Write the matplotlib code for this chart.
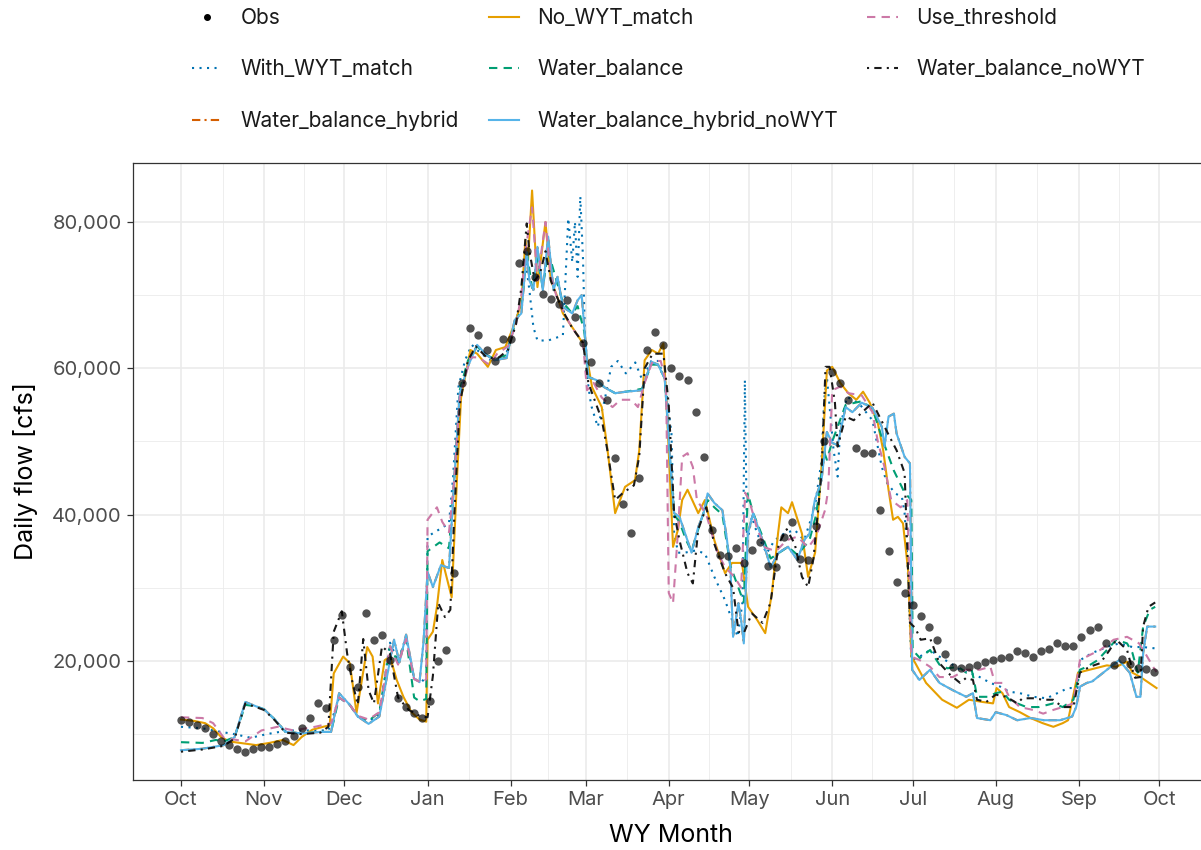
import matplotlib.pyplot as plt
from matplotlib.lines import Line2D
from matplotlib.ticker import FixedLocator, FuncFormatter

plt.rcParams["font.family"] = ["Inter", "DejaVu Sans"]

# ---------------------------------------------------------------------------
# data: day of water year (0 = Oct 1), flow in thousand cfs
# ---------------------------------------------------------------------------
month_days = [0, 31, 61, 92, 123, 151, 182, 212, 243, 273, 304, 335, 365]
month_labels = ["Oct", "Nov", "Dec", "Jan", "Feb", "Mar", "Apr", "May",
                "Jun", "Jul", "Aug", "Sep", "Oct"]

obs_days = list(range(0, 364, 3))
obs_flow = [
    11.9, 11.7, 11.3, 10.8, 10.0, 9.1, 8.5, 7.9, 7.6, 7.9,
    8.2, 8.3, 8.6, 9.0, 9.8, 10.9, 12.2, 14.2, 13.6, 22.9,
    26.3, 19.2, 16.5, 26.5, 22.9, 23.6, 20.1, 15.0, 13.7, 12.9,
    12.2, 14.5, 20.0, 21.5, 32.0, 58.0, 65.5, 64.5, 62.5, 61.0,
    64.0, 64.0, 74.4, 76.1, 72.5, 70.2, 69.5, 68.8, 69.3, 67.0,
    63.5, 60.8, 58.0, 55.7, 47.7, 41.5, 37.5, 45.0, 62.5, 65.0,
    63.2, 60.0, 59.0, 58.4, 54.0, 47.9, 37.9, 34.5, 34.3, 35.5,
    33.4, 35.2, 36.3, 33.0, 32.8, 37.0, 39.0, 34.0, 33.8, 38.5,
    50.0, 59.5, 58.0, 55.7, 49.1, 48.4, 48.4, 40.6, 35.0, 30.8,
    29.3, 27.6, 26.2, 24.6, 22.9, 21.0, 19.2, 19.0, 19.2, 19.5,
    19.8, 20.1, 20.4, 20.6, 21.4, 21.1, 20.6, 21.3, 21.7, 22.4,
    22.0, 22.0, 23.3, 24.2, 24.6, 22.5, 19.5, 20.2, 19.6, 19.1,
    18.9, 18.5,
]

with_wyt_match = [
    (0, 11.0), (8, 10.8), (15, 10.3), (20, 10.0), (26, 9.5), (32, 10.0),
    (40, 10.5), (48, 10.5), (55, 10.5), (59, 15.0), (63, 14.0), (66, 12.4),
    (70, 11.8), (74, 12.6), (78, 22.5), (81, 20.0), (84, 23.3), (87, 17.5),
    (90, 17.2), (91.5, 18.0), (92, 37.0), (96, 37.9), (100, 38.8),
    (101.5, 45.0), (103.5, 57.4), (106, 61.1), (108.5, 63.2), (112, 62.0),
    (116, 61.0), (121, 61.5), (124.5, 66.0), (127, 69.0), (128.5, 74.8),
    (130, 70.7), (131.5, 65.6), (133, 63.8), (137, 63.8), (141, 64.3),
    (142.5, 64.5), (144.5, 80.5), (146, 74.5), (147, 80.0), (148, 72.5),
    (149, 83.5), (150, 75.0), (151, 60.2), (153, 55.0), (155.5, 52.0),
    (158, 55.5), (160.5, 60.2), (163, 61.0), (166, 59.3), (169.5, 60.8),
    (172, 58.5), (175.5, 61.0), (178, 61.0), (180.5, 58.6), (183, 51.1),
    (184, 37.4), (185.5, 34.8), (188, 34.8), (192, 35.1), (195.5, 34.7),
    (199, 31.5), (203, 28.3), (205.6, 25.6), (207.7, 23.3), (209.5, 28.0),
    (210.4, 58.4), (211.2, 36.0), (213, 39.7), (215, 37.4), (218.5, 34.7),
    (221.5, 36.5), (225, 37.4), (229, 37.9), (232.5, 36.5), (236.5, 41.0),
    (239, 47.4), (240, 55.7), (241, 58.8), (243.5, 48.8), (245, 45.2),
    (246, 52.0), (248.5, 56.1), (253, 55.2), (258, 52.9), (261.5, 46.5),
    (263.5, 44.3), (266.5, 42.9), (269, 42.4), (270, 40.2), (271, 34.2),
    (272.5, 20.1), (275.7, 20.6), (279.5, 21.5), (283, 20.6), (287, 19.7),
    (290.7, 18.8), (294, 18.4), (298, 17.8), (302, 17.0), (305.6, 16.5),
    (309, 15.8), (313, 15.6), (318, 15.1), (323, 14.9), (327, 15.6),
    (331, 16.3), (334.5, 16.3), (335.4, 20.1), (340, 21.1), (345.5, 21.9),
    (350, 22.4), (355, 21.9), (359, 21.9), (364, 21.7),
]

no_wyt_match = [
    (0, 12.0), (5, 11.8), (9, 11.5), (12, 10.8), (15, 9.6), (18, 9.0),
    (22, 8.8), (28, 8.5), (33, 8.8), (38, 9.2), (42, 8.5), (45, 9.6),
    (49, 10.6), (53, 11.0), (55.5, 11.2), (57, 18.3), (60.5, 20.6),
    (63, 19.7), (65.5, 12.9), (69.5, 21.9), (71.5, 20.6), (73.5, 14.2),
    (76, 20.1), (78, 20.6), (80.5, 17.4), (83, 15.1), (86, 13.0), (89, 12.0),
    (91.5, 11.7), (92, 22.9), (94, 24.0), (95.5, 27.4), (97.5, 33.8),
    (101, 28.7), (103, 45.0), (104.5, 56.0), (108, 62.5), (110.5, 62.0),
    (114.5, 60.2), (117.5, 62.5), (121, 62.9), (124.5, 66.1), (127, 68.9),
    (128.5, 77.5), (129.5, 74.8), (131, 84.3), (133, 71.1), (136, 80.0),
    (138, 72.0), (140, 70.2), (142.5, 67.5), (146, 65.6), (150, 63.4),
    (151, 62.5), (153.4, 57.4), (157, 54.7), (159, 49.3), (162, 40.2),
    (165.7, 43.8), (169.4, 44.7), (171, 48.8), (173, 61.1), (175.7, 62.5),
    (178, 62.0), (180, 63.4), (181.7, 51.1), (183.6, 35.6), (185.4, 37.9),
    (187, 42.0), (189, 43.4), (193, 40.2), (195.5, 42.0), (199, 36.5),
    (203, 32.0), (205.6, 33.4), (209.3, 33.4), (211.6, 27.4), (215, 25.6),
    (218, 23.8), (220.5, 29.3), (222.8, 37.5), (224, 41.0), (226.5, 40.2),
    (228, 41.7), (231.7, 37.4), (234, 31.5), (236.6, 34.8), (239, 46.5),
    (241, 59.7), (243, 60.2), (246, 58.0), (249, 56.6), (252, 55.7),
    (254.5, 56.8), (257, 55.3), (260, 52.5), (262, 48.8), (264, 43.4),
    (265.7, 39.3), (267.5, 39.7), (269.4, 38.8), (271.3, 32.4), (272.5, 20.6),
    (274, 19.7), (278, 17.0), (284, 14.7), (289.5, 13.6), (294, 14.7),
    (299, 14.4), (303, 14.2), (304.3, 16.3), (306.5, 15.6), (309, 13.7),
    (313, 13.0), (317, 12.2), (321.5, 11.5), (325.5, 11.0), (329, 11.5),
    (331, 11.9), (334.7, 18.4), (339, 18.8), (345.5, 19.4), (349, 19.2),
    (353, 19.9), (355, 18.4), (358, 17.8), (364, 16.3),
]

water_balance = [
    (0, 8.9), (8, 8.8), (13, 9.2), (16, 9.0), (20, 9.6), (24, 14.0),
    (28, 13.8), (31, 13.4), (35, 12.0), (39, 10.3), (45, 10.1), (52, 10.3),
    (56, 10.3), (59, 15.0), (63, 14.0), (66, 12.4), (70, 11.8), (74, 13.0),
    (78, 22.0), (81, 19.8), (84, 23.0), (87, 15.0), (89, 14.5), (91.5, 14.8),
    (92, 35.0), (96.5, 36.2), (100, 35.4), (102, 45.0), (104, 57.0),
    (107, 61.0), (110.5, 63.0), (114, 61.8), (117, 61.3), (121.5, 61.8),
    (124.5, 66.0), (127, 68.0), (129, 76.0), (131, 71.0), (133, 75.0),
    (135, 71.0), (137, 76.0), (139, 73.4), (142.5, 69.0), (146, 67.5),
    (148, 68.5), (150.5, 65.0), (152, 58.8), (155, 58.4), (158, 57.4),
    (162, 56.6), (166, 56.8), (172, 57.2), (175.5, 60.5), (178, 60.5),
    (180.5, 58.6), (182.5, 47.5), (184, 40.0), (186, 39.0), (188.5, 36.5),
    (190.5, 35.0), (193, 38.0), (196.5, 42.0), (199, 41.0), (202, 40.0),
    (205, 33.0), (208, 30.0), (210, 28.0), (211.5, 42.9), (213.5, 40.2),
    (217, 37.0), (220, 34.0), (226.5, 35.6), (230, 34.5), (234.5, 36.5),
    (237, 40.0), (239, 45.7), (240, 48.5), (241, 47.5), (243, 50.0),
    (245, 52.0), (248, 55.0), (254, 55.5), (258, 54.5), (262, 50.0),
    (266, 46.0), (270, 43.0), (272.5, 42.0), (273, 21.5), (275.7, 20.4),
    (279.5, 21.5), (283, 19.5), (286, 19.0), (290, 19.2), (293, 18.4),
    (295, 18.8), (296, 17.2), (297, 15.1), (301, 15.1), (304, 15.6),
    (306.5, 15.8), (309, 14.7), (312, 14.2), (315.5, 13.7), (320, 13.7),
    (325.5, 14.2), (329, 13.7), (333, 14.7), (335.4, 18.8), (338, 19.2),
    (342, 20.1), (345.5, 21.5), (349, 22.9), (353, 22.4), (355, 21.1),
    (357, 18.4), (359, 24.7), (361.5, 27.0), (363.5, 27.4),
]

hybrid_nowyt = [
    (0, 7.8), (8, 8.0), (16, 8.5), (20, 9.6), (24, 14.4), (28, 13.8),
    (31, 13.4), (35, 12.0), (39, 10.3), (45, 10.1), (52, 10.3), (56, 10.3),
    (59, 15.6), (63, 14.0), (66, 12.4), (70, 11.4), (74, 12.4), (79.5, 22.9),
    (81.5, 19.8), (84, 23.6), (87, 17.6), (89, 17.1), (90.5, 22.6),
    (92, 32.2), (94, 30.1), (97, 33.1), (100, 32.7), (102, 45.0),
    (104, 56.6), (107, 60.2), (110.5, 63.2), (114, 61.8), (117, 61.1),
    (121.5, 61.4), (124.5, 66.6), (127, 67.5), (129, 75.9), (130, 72.0),
    (131.5, 70.7), (133, 76.6), (135, 70.7), (137, 78.0), (139, 70.7),
    (140.5, 72.5), (142.5, 68.4), (146, 67.5), (148, 69.3), (149.5, 70.0),
    (150.5, 65.6), (152, 58.8), (155, 58.4), (158, 57.4), (162, 56.6),
    (166, 56.8), (172, 57.0), (175.5, 60.9), (178, 60.5), (180.5, 58.6),
    (182.5, 47.5), (184, 40.2), (186, 39.7), (188.5, 37.0), (190.5, 34.8),
    (193, 38.3), (195, 40.2), (196.5, 42.9), (199, 41.6), (202, 40.6),
    (203.5, 37.2), (205, 32.8), (206, 23.3), (208, 27.9), (209, 25.6),
    (210, 22.4), (211.5, 37.4), (213.5, 40.2), (217, 36.5), (220, 32.8),
    (223, 34.8), (226.5, 35.6), (230, 33.8), (232.5, 36.5), (234.5, 37.4),
    (236.5, 42.0), (239, 44.7), (241, 51.3), (243, 49.8), (245, 49.5),
    (248, 54.7), (250.5, 54.0), (254, 55.3), (258, 54.6), (261.5, 52.0),
    (262.5, 49.3), (264, 53.4), (266, 53.8), (267, 51.1), (270, 47.9),
    (272, 47.0), (272.8, 18.8), (275.5, 17.4), (279.5, 18.8), (283, 17.0),
    (288, 16.0), (293, 15.1), (295.5, 15.6), (297, 12.2), (302, 11.9),
    (304, 13.0), (308, 12.6), (312, 11.9), (317, 12.2), (322, 11.9),
    (328, 11.9), (332.5, 12.4), (334, 13.7), (335.5, 16.5), (338, 17.0),
    (340, 17.2), (345.5, 18.8), (350, 20.1), (354, 18.4), (356.5, 15.1),
    (358, 15.1), (359, 21.1), (360.5, 24.7), (363.5, 24.7),
]

# the hybrid run sits underneath hybrid_noWYT over the whole year
water_balance_hybrid = list(hybrid_nowyt)

use_threshold = [
    (0, 12.3), (8, 12.2), (12, 11.5), (16, 9.5), (24, 9.0), (30, 10.5),
    (36, 11.0), (42, 10.5), (50, 11.0), (56, 11.5), (59, 15.0), (63, 14.0),
    (66, 12.5), (70, 12.0), (74, 13.0), (78, 22.0), (81, 19.5), (84, 23.0),
    (87, 17.5), (90, 17.0), (91.5, 17.5), (92, 39.3), (95.5, 41.0),
    (97.5, 39.0), (100, 37.6), (102, 45.0), (104, 56.0), (108, 61.5),
    (111, 61.5), (115, 60.5), (118, 62.0), (122, 63.0), (125, 66.0),
    (127, 70.0), (128.5, 76.0), (131, 82.0), (133, 72.0), (136, 80.0),
    (138, 72.5), (140, 70.0), (143, 67.5), (146, 65.5), (150, 63.5),
    (151.5, 57.0), (154, 58.0), (157, 56.0), (161, 54.7), (164, 55.7),
    (168, 55.7), (170.5, 54.7), (173, 58.0), (176, 61.0), (179, 61.0),
    (181, 58.0), (182, 29.3), (183.6, 27.9), (185.4, 37.5), (187, 47.9),
    (189, 48.4), (191, 46.5), (192.5, 42.0), (196, 40.0), (200, 35.0),
    (203, 32.8), (206.5, 31.5), (209, 30.0), (210.5, 43.0), (212, 42.0),
    (215, 38.0), (218, 35.5), (222, 35.0), (226, 36.5), (230, 37.0),
    (234, 35.5), (237, 37.0), (240.3, 40.6), (241.5, 43.4), (243, 57.0),
    (246, 57.5), (249, 56.6), (254, 56.3), (258, 54.0), (260, 50.0),
    (262.5, 46.5), (265, 42.0), (268.5, 41.0), (271, 42.0), (272.5, 20.6),
    (275.7, 20.1), (279.5, 19.2), (283, 17.8), (288, 17.8), (293, 18.8),
    (298, 18.8), (302, 19.2), (303.7, 17.0), (306.5, 17.0), (309, 15.1),
    (313, 13.7), (318, 13.3), (321.7, 12.8), (325.4, 13.3), (329, 13.7),
    (333, 14.2), (335.4, 20.1), (339, 20.8), (343, 21.5), (348, 22.9),
    (353, 23.3), (357.5, 22.4), (360.5, 20.6), (362.7, 19.2), (364, 18.5),
]

water_balance_nowyt = [
    (0, 7.6), (8, 7.9), (16, 8.4), (20, 9.4), (24, 14.2), (28, 13.7),
    (31, 13.3), (35, 11.9), (39, 10.2), (45, 10.0), (52, 10.2), (55, 11.0),
    (57, 24.0), (60, 26.8), (62, 21.0),
    (64, 17.0), (66, 14.0), (68, 23.0), (70, 16.0), (72, 14.2), (75, 22.0),
    (78, 21.0), (81, 15.0), (85, 13.3), (89, 12.5), (92, 12.3), (94, 18.0),
    (96, 27.9), (98.5, 26.0), (100.5, 27.0), (102, 40.0), (104, 55.0),
    (107, 61.0), (110, 63.0), (114, 61.5), (118, 61.3), (122, 62.5),
    (125, 66.0), (127, 71.0), (129, 79.8), (130, 76.0), (132, 72.0),
    (134, 73.0), (136, 76.0), (138, 72.0), (140, 70.0), (143, 67.5),
    (146, 65.5), (150, 63.5), (152, 58.0), (154, 56.0), (157, 53.0),
    (159, 49.0), (162, 42.0), (165, 43.0), (169, 44.0), (171, 48.0),
    (173, 60.0), (176, 62.0), (180, 62.0), (182, 55.0), (184, 40.2),
    (186, 36.5), (189, 32.0), (191, 30.6), (193, 38.0), (196, 41.0),
    (199, 36.0), (203, 32.0), (206, 30.0), (208, 24.0), (210, 23.8),
    (213, 26.5), (217, 25.2), (220, 28.0), (223, 36.0), (226, 38.0),
    (229, 36.0), (231.7, 31.5), (234, 30.1), (236, 34.0), (239, 45.7),
    (240.5, 60.2), (242, 60.2), (244, 55.3), (245, 49.3), (248, 53.4),
    (251, 52.9), (258, 55.3), (264.6, 50.5), (267, 48.8), (270, 45.7),
    (272, 25.2), (274, 24.5), (276, 22.9), (279.5, 23.1), (283, 19.7),
    (287, 18.1), (290.7, 17.0), (293, 17.7), (295.5, 17.4), (297, 14.7),
    (300.5, 14.4), (304, 15.4), (308, 15.1), (312, 14.2), (314, 14.9),
    (318, 14.9), (321.7, 14.7), (325.4, 14.7), (329, 13.7), (333, 13.7),
    (335.4, 18.4), (339, 19.2), (343, 19.7), (346.5, 21.5), (349, 22.9),
    (353, 21.5), (355, 18.8), (356, 17.7), (358, 17.8), (359, 24.7),
    (361, 27.4), (363.5, 28.0),
]

# ---------------------------------------------------------------------------
# styles (drawing order = ggplot factor order)
# ---------------------------------------------------------------------------
series = [
    ("With_WYT_match", with_wyt_match, "#0072B2", (0, (1, 2.6))),
    ("Water_balance_hybrid", water_balance_hybrid, "#D55E00", (0, (4, 2, 1, 2))),
    ("No_WYT_match", no_wyt_match, "#E69F00", "-"),
    ("Water_balance", water_balance, "#009E73", (0, (4, 3))),
    ("Water_balance_hybrid_noWYT", hybrid_nowyt, "#56B4E9", "-"),
    ("Use_threshold", use_threshold, "#CC79A7", (0, (4, 3))),
    ("Water_balance_noWYT", water_balance_nowyt, "#1a1a1a", (0, (1, 2.5, 3.5, 2.5))),
]

fig = plt.figure(figsize=(12.01, 8.5), dpi=100)
ax = fig.add_axes([133 / 1201, 70 / 850, (1208 - 133) / 1201, 617 / 850])

handles = {}
for name, pts, color, ls in series:
    d, v = zip(*pts)
    ln, = ax.plot(d, v, color=color, linestyle=ls, linewidth=1.5, zorder=2)
    handles[name] = ln

ax.scatter(obs_days, obs_flow, s=36, color="black", alpha=0.68,
           linewidths=0, zorder=3)
handles["Obs"] = Line2D([], [], color="black", marker="o", markersize=4,
                        linestyle="none")

# axes
ax.set_xlim(-17.9, 383.2)
ax.set_ylim(3.73, 88.06)
ax.xaxis.set_major_locator(FixedLocator(month_days))
ax.set_xticklabels(month_labels)
mid = [(a + b) / 2 for a, b in zip(month_days[:-1], month_days[1:])]
ax.xaxis.set_minor_locator(FixedLocator(mid))
ax.yaxis.set_major_locator(FixedLocator([20, 40, 60, 80]))
ax.yaxis.set_minor_locator(FixedLocator([10, 30, 50, 70]))
ax.yaxis.set_major_formatter(FuncFormatter(lambda v, _: f"{v * 1000:,.0f}"))

ax.grid(which="major", color="#EBEBEB", linewidth=1.2, zorder=0)
ax.grid(which="minor", color="#EBEBEB", linewidth=0.6, zorder=0)
ax.set_axisbelow(True)
for s in ax.spines.values():
    s.set_color("#333333")
    s.set_linewidth(0.9)
ax.tick_params(which="major", length=4, width=0.9, color="#333333",
               labelsize=14.5, labelcolor="#4D4D4D", pad=4)
ax.tick_params(which="minor", length=0)

ax.set_xlabel("WY Month", fontsize=18, color="black", labelpad=11)
ax.set_ylabel("Daily flow [cfs]", fontsize=18, color="black", labelpad=10)

# legend laid out by column like the ggplot guide
order = ["Obs", "With_WYT_match", "Water_balance_hybrid",
         "No_WYT_match", "Water_balance", "Water_balance_hybrid_noWYT",
         "Use_threshold", "Water_balance_noWYT"]
fig.legend([handles[k] for k in order], order, ncol=3, loc="upper left",
           bbox_to_anchor=(192 / 1201, 1 - 8 / 850), frameon=False,
           fontsize=15, handlelength=1.45, handletextpad=0.9,
           columnspacing=1.4, labelspacing=1.5, borderaxespad=0,
           borderpad=0, labelcolor="#1a1a1a")

fig.savefig("out.png", dpi=100)
